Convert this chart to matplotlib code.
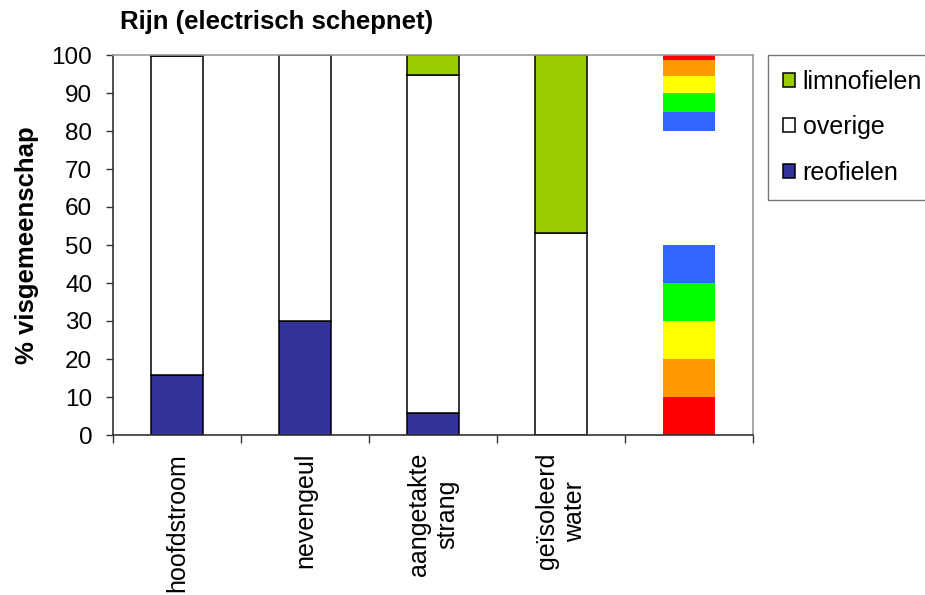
import matplotlib
matplotlib.use("Agg")
import matplotlib.pyplot as plt
import numpy as np

plt.rcParams['font.family'] = ['Liberation Sans', 'DejaVu Sans']

categories = ['hoofdstroom', 'nevengeul', 'aangetakte\nstrang', 'geïsoleerd\nwater', '']
reofielen = [15.7, 30.0, 5.8, 0.0, 0.0]
overige = [84.0, 70.0, 88.9, 53.2, 0.0]
limnofielen = [0.3, 0.0, 5.3, 46.8, 0.0]

# colour scale column (5th category)
scale_lower = [10, 10, 10, 10, 10]
scale_lower_colors = ['#FF0000', '#FF9900', '#FFFF00', '#00FF00', '#3366FF']
scale_gap = 30
scale_upper = [5, 5, 4.5, 4.2, 1.3]
scale_upper_colors = ['#3366FF', '#00FF00', '#FFFF00', '#FF9900', '#FF0000']

series_names = ['limnofielen', 'overige', 'reofielen']
col_reo = '#333399'
col_ov = '#FFFFFF'
col_lim = '#99CC00'

W, H = 925, 595
fig = plt.figure(figsize=(W / 100, H / 100), dpi=100)
ax = fig.add_axes([113 / W, 1 - 435 / H, 640 / W, 380 / H])

x = np.arange(len(categories))
bw = 0.41
reo = np.array(reofielen)
ov = np.array(overige)
lim = np.array(limnofielen)
n = 4
h_reo = ax.bar(x[:n], reo[:n], bw, color=col_reo, edgecolor='black', lw=1.1, label='reofielen')
h_ov = ax.bar(x[:n], ov[:n], bw, bottom=reo[:n], color=col_ov, edgecolor='black', lw=1.1, label='overige')
h_lim = ax.bar(x[:n], lim[:n], bw, bottom=(reo + ov)[:n], color=col_lim, edgecolor='black', lw=1.1, label='limnofielen')

bottom = 0
for v, c in zip(scale_lower, scale_lower_colors):
    ax.bar(x[4], v, bw, bottom=bottom, color=c, lw=0)
    bottom += v
bottom += scale_gap
for v, c in zip(scale_upper, scale_upper_colors):
    ax.bar(x[4], v, bw, bottom=bottom, color=c, lw=0)
    bottom += v

ax.set_xlim(-0.5, len(categories) - 0.5)
ax.set_ylim(0, 100)
ax.set_yticks(np.arange(0, 101, 10))
ax.set_xticks(np.arange(-0.5, len(categories), 1.0))
ax.set_xticklabels([])
ax.set_xticks(x, minor=True)
ax.set_xticklabels(categories, minor=True, rotation=90, va='top', ha='center',
                   multialignment='center', fontsize=18)
ax.tick_params(axis='x', which='major', direction='out', length=6, width=1, color='#333333')
ax.tick_params(axis='x', which='minor', length=0, pad=13)
ax.tick_params(axis='y', direction='out', length=5, width=1, color='#333333', labelsize=17.5, pad=10)

for s in ['top', 'right']:
    ax.spines[s].set_color('#999999')
    ax.spines[s].set_linewidth(1.2)
for s in ['left', 'bottom']:
    ax.spines[s].set_color('#333333')
    ax.spines[s].set_linewidth(1.2)

ax.set_ylabel('% visgemeenschap', fontsize=18.5, fontweight='bold', labelpad=9)
fig.text(120 / W, 1 - 22 / H, 'Rijn (electrisch schepnet)', fontsize=18.5, fontweight='bold',
         ha='left', va='center')

leg = fig.legend([h_lim, h_ov, h_reo], series_names, loc='upper left',
                 bbox_to_anchor=(768 / W, 1 - 55 / H), borderaxespad=0, fontsize=18,
                 handlelength=0.48, handleheight=0.48, handletextpad=0.3,
                 labelspacing=0.85, borderpad=0.6, fancybox=False, frameon=True)
leg.get_frame().set_edgecolor('#555555')
leg.get_frame().set_linewidth(1.0)
leg.get_frame().set_boxstyle('square', pad=0)

fig.savefig('out.png', dpi=100)
